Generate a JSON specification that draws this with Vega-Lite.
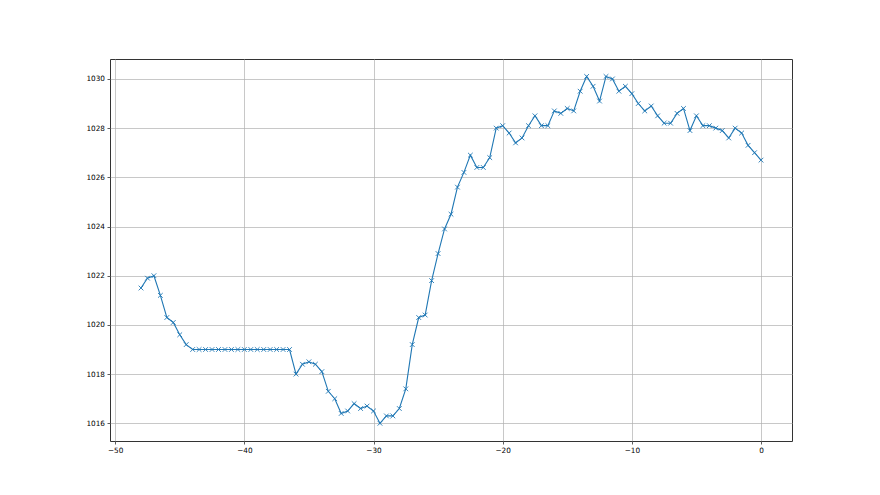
{
  "$schema": "https://vega.github.io/schema/vega-lite/v6.json",
  "autosize": {"type": "none"},
  "padding": {"left": 110, "top": 59, "right": 88, "bottom": 54},
  "width": 682,
  "height": 382,
  "background": "white",
  "config": {
    "view": {"stroke": "#333", "strokeWidth": 1},
    "font": "DejaVu Sans",
    "axis": {
      "domain": false,
      "grid": true,
      "gridColor": "#b0b0b0",
      "gridWidth": 0.7,
      "tickColor": "#333",
      "tickSize": 3,
      "tickWidth": 0.8,
      "labelFont": "DejaVu Sans",
      "labelFontSize": 7.3,
      "labelColor": "#000",
      "labelPadding": 2.5,
      "title": null
    }
  },
  "data": {
    "values": [
      {"x": -48, "y": 1021.5}, {"x": -47.5, "y": 1021.9}, {"x": -47, "y": 1022.0}, {"x": -46.5, "y": 1021.2},
      {"x": -46, "y": 1020.3}, {"x": -45.5, "y": 1020.1}, {"x": -45, "y": 1019.6}, {"x": -44.5, "y": 1019.2},
      {"x": -44, "y": 1019.0}, {"x": -43.5, "y": 1019.0}, {"x": -43, "y": 1019.0}, {"x": -42.5, "y": 1019.0},
      {"x": -42, "y": 1019.0}, {"x": -41.5, "y": 1019.0}, {"x": -41, "y": 1019.0}, {"x": -40.5, "y": 1019.0},
      {"x": -40, "y": 1019.0}, {"x": -39.5, "y": 1019.0}, {"x": -39, "y": 1019.0}, {"x": -38.5, "y": 1019.0},
      {"x": -38, "y": 1019.0}, {"x": -37.5, "y": 1019.0}, {"x": -37, "y": 1019.0}, {"x": -36.5, "y": 1019.0},
      {"x": -36, "y": 1018.0}, {"x": -35.5, "y": 1018.4}, {"x": -35, "y": 1018.5}, {"x": -34.5, "y": 1018.4},
      {"x": -34, "y": 1018.1}, {"x": -33.5, "y": 1017.3}, {"x": -33, "y": 1017.0}, {"x": -32.5, "y": 1016.4},
      {"x": -32, "y": 1016.5}, {"x": -31.5, "y": 1016.8}, {"x": -31, "y": 1016.6}, {"x": -30.5, "y": 1016.7},
      {"x": -30, "y": 1016.5}, {"x": -29.5, "y": 1016.0}, {"x": -29, "y": 1016.3}, {"x": -28.5, "y": 1016.3},
      {"x": -28, "y": 1016.6}, {"x": -27.5, "y": 1017.4}, {"x": -27, "y": 1019.2}, {"x": -26.5, "y": 1020.3},
      {"x": -26, "y": 1020.4}, {"x": -25.5, "y": 1021.8}, {"x": -25, "y": 1022.9}, {"x": -24.5, "y": 1023.9},
      {"x": -24, "y": 1024.5}, {"x": -23.5, "y": 1025.6}, {"x": -23, "y": 1026.2}, {"x": -22.5, "y": 1026.9},
      {"x": -22, "y": 1026.4}, {"x": -21.5, "y": 1026.4}, {"x": -21, "y": 1026.8}, {"x": -20.5, "y": 1028.0},
      {"x": -20, "y": 1028.1}, {"x": -19.5, "y": 1027.8}, {"x": -19, "y": 1027.4}, {"x": -18.5, "y": 1027.6},
      {"x": -18, "y": 1028.1}, {"x": -17.5, "y": 1028.5}, {"x": -17, "y": 1028.1}, {"x": -16.5, "y": 1028.1},
      {"x": -16, "y": 1028.7}, {"x": -15.5, "y": 1028.6}, {"x": -15, "y": 1028.8}, {"x": -14.5, "y": 1028.7},
      {"x": -14, "y": 1029.5}, {"x": -13.5, "y": 1030.1}, {"x": -13, "y": 1029.7}, {"x": -12.5, "y": 1029.1},
      {"x": -12, "y": 1030.1}, {"x": -11.5, "y": 1030.0}, {"x": -11, "y": 1029.5}, {"x": -10.5, "y": 1029.7},
      {"x": -10, "y": 1029.4}, {"x": -9.5, "y": 1029.0}, {"x": -9, "y": 1028.7}, {"x": -8.5, "y": 1028.9},
      {"x": -8, "y": 1028.5}, {"x": -7.5, "y": 1028.2}, {"x": -7, "y": 1028.2}, {"x": -6.5, "y": 1028.6},
      {"x": -6, "y": 1028.8}, {"x": -5.5, "y": 1027.9}, {"x": -5, "y": 1028.5}, {"x": -4.5, "y": 1028.1},
      {"x": -4, "y": 1028.1}, {"x": -3.5, "y": 1028.0}, {"x": -3, "y": 1027.9}, {"x": -2.5, "y": 1027.6},
      {"x": -2, "y": 1028.0}, {"x": -1.5, "y": 1027.8}, {"x": -1, "y": 1027.3}, {"x": -0.5, "y": 1027.0},
      {"x": 0, "y": 1026.7}
    ]
  },
  "encoding": {
    "x": {
      "field": "x", "type": "quantitative",
      "scale": {"domain": [-50.4, 2.4], "nice": false, "zero": false},
      "axis": {"values": [-50, -40, -30, -20, -10, 0], "labelExpr": "replace(datum.label, '-', '\u2212')", "labelFlush": false}
    },
    "y": {
      "field": "y", "type": "quantitative",
      "scale": {"domain": [1015.28, 1030.81], "nice": false, "zero": false},
      "axis": {"values": [1016, 1018, 1020, 1022, 1024, 1026, 1028, 1030], "format": "d", "labelFlush": false}
    }
  },
  "layer": [
    {"mark": {"type": "line", "color": "#1f77b4", "strokeWidth": 1.1}},
    {"mark": {"type": "point", "shape": "M-1,-1L1,1M-1,1L1,-1", "filled": false, "color": "#1f77b4", "size": 22, "strokeWidth": 0.9, "opacity": 1}}
  ]
}
